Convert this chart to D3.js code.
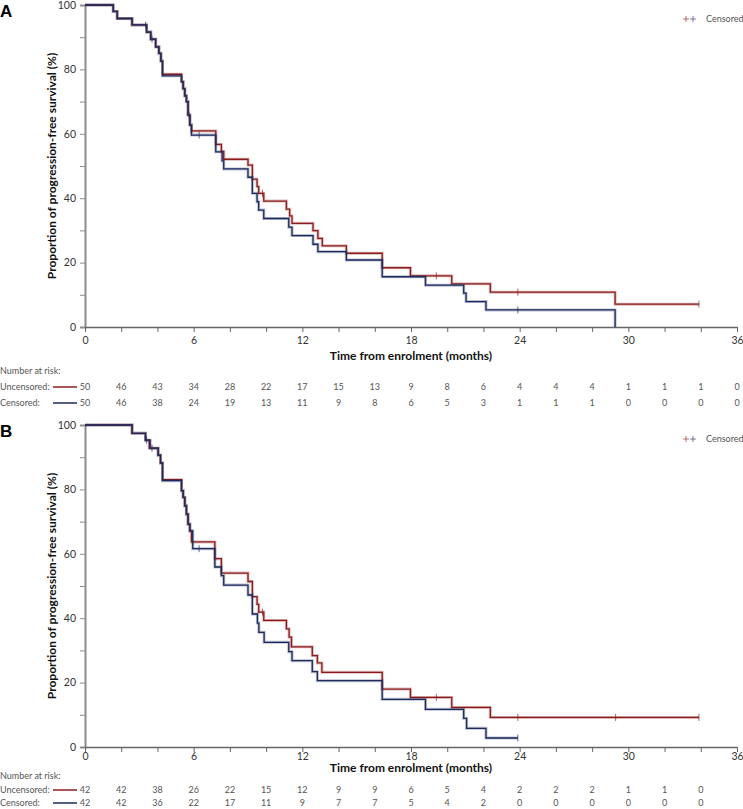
<!DOCTYPE html>
<html>
<head>
<meta charset="utf-8">
<script src="https://cdn.jsdelivr.net/npm/d3@7"></script>
<style>
  body { margin: 0; background: #fff; }
  svg text { font-family: Lato, "Open Sans", sans-serif; }
</style>
</head>
<body>
<div id="chart"></div>
<script>
// Kaplan-Meier steps: [month, survival % after the drop]
var stepsA_unc = [[0,100],[1.56,98],[1.78,95.8],[2.6,93.8],[3.4,91.6],[3.63,89.4],[3.9,87],[4.08,85],[4.19,82.6],[4.28,78.5],
  [5.33,76.2],[5.42,74],[5.51,71.8],[5.6,70],[5.69,65.8],[5.79,62.7],[5.88,60.9],[7.22,56.7],[7.53,54.5],[7.66,52.1],
  [9.0,50.3],[9.24,45.9],[9.5,43.6],[9.59,41.5],[9.87,39.1],[11.12,36.6],[11.3,34.5],[11.43,32.2],[12.59,29.9],[12.86,27.5],
  [13.1,25.2],[14.43,22.9],[16.41,18.4],[17.97,15.9],[20.25,13.4],[22.38,10.8],[29.27,7.1]];
var endA_unc = 33.9;
var censA_unc = [9.8, 19.4, 23.9, 33.9];

var stepsA_cen = [[0,100],[1.56,98],[1.78,95.8],[2.6,93.8],[3.4,91.6],[3.63,89.4],[3.9,87],[4.08,85],[4.19,82.6],[4.28,78],
  [5.33,76.2],[5.42,74],[5.51,71.8],[5.6,70],[5.69,65.8],[5.79,62.7],[5.88,59.6],[7.22,54.4],[7.57,51.6],[7.66,49.1],
  [9.0,46.5],[9.24,41.5],[9.5,38.9],[9.59,36.3],[9.87,33.7],[11.25,31.0],[11.43,28.4],[12.59,25.7],[12.86,23.4],
  [14.43,20.8],[16.41,15.6],[18.8,13.0],[20.91,10.5],[21.04,7.9],[22.14,5.3],[29.27,0]];
var endA_cen = 29.27;
var censA_cen = [3.35, 3.7, 5.75, 6.3, 23.9];

var stepsB_unc = [[0,100],[2.6,97.4],[3.34,95.3],[3.55,92.8],[4.04,90.6],[4.17,88.2],[4.28,83.0],
  [5.33,79.6],[5.42,77.5],[5.51,74.9],[5.6,72.3],[5.69,69.2],[5.79,67.1],[5.88,63.7],[7.17,58.5],[7.53,54.0],
  [9.0,51.4],[9.24,46.7],[9.5,44.3],[9.59,41.9],[9.87,39.3],[11.12,36.7],[11.27,34.1],[11.4,31.1],[12.55,28.4],
  [12.83,26.1],[13.08,23.2],[16.41,18.0],[17.97,15.4],[20.25,12.3],[22.38,9.2]];
var endB_unc = 33.9;
var censB_unc = [9.8, 19.4, 23.9, 29.3, 33.9];

var stepsB_cen = [[0,100],[2.6,97.4],[3.34,95.3],[3.6,92.8],[4.04,90.6],[4.17,88.2],[4.28,82.7],
  [5.33,79.6],[5.42,77.5],[5.51,74.9],[5.6,72.3],[5.69,69.2],[5.79,67.1],[5.95,61.6],[7.17,55.9],[7.53,53.2],[7.66,50.3],
  [9.0,47.2],[9.24,41.3],[9.52,38.5],[9.6,35.6],[9.89,32.5],[11.25,29.6],[11.43,26.8],[12.55,23.4],[12.83,20.6],
  [16.41,14.8],[18.8,11.7],[20.91,8.9],[21.07,5.8],[22.14,2.8]];
var endB_cen = 23.9;
var censB_cen = [3.4, 3.7, 6.3, 23.9];

// Number at risk, every 2 months
var riskMonths = d3.range(0, 37, 2);
var riskA_unc = [50,46,43,34,28,22,17,15,13,9,8,6,4,4,4,1,1,1,0];
var riskA_cen = [50,46,38,24,19,13,11,9,8,6,5,3,1,1,1,0,0,0,0];
var riskB_unc = [42,42,38,26,22,15,12,9,9,6,5,4,2,2,2,1,1,0];
var riskB_cen = [42,42,36,22,17,11,9,7,7,5,4,2,0,0,0,0,0,0];

var xTicks = d3.range(0, 37, 2);
var yTicks = d3.range(0, 101, 10);

var RED = "#8c1c1c", BLUE = "#1c2a5c";

var W = 743, H = 809;
var svg = d3.select("#chart").append("svg").attr("width", W).attr("height", H);

var x = d3.scaleLinear().domain([0, 36]).range([85, 737]);

function valueAt(steps, t) {
    var v = steps[0][1];
    steps.forEach(function(s){ if (s[0] <= t) v = s[1]; });
    return v;
}

function panel(opt) {
    var y = d3.scaleLinear().domain([0, 100]).range([opt.bottom, opt.top]);
    var g = svg.append("g");

    // panel letter
    g.append("text").attr("x", 0).attr("y", opt.top + 12)
      .attr("font-size", 17).attr("font-weight", "bold")
      .style("font-family", "Liberation Sans, Arial, sans-serif")
      .text(opt.letter);

    // y axis
    var ya = g.append("g").attr("transform", "translate(" + x(0) + ",0)")
      .call(d3.axisLeft(y).tickValues(yTicks).tickSize(5)
        .tickFormat(function(d){ return d % 20 === 0 ? d : ""; }));
    ya.select(".domain").attr("stroke", "#8c8c8c").attr("stroke-width", 2);
    ya.selectAll(".tick line").attr("stroke", "#8c8c8c").attr("stroke-width", 1);
    ya.selectAll(".tick text").attr("font-size", 10.5).attr("fill", "#333").attr("x", -9)
      .style("font-family", "Lato, sans-serif");

    // x axis
    var xa = g.append("g").attr("transform", "translate(0," + opt.bottom + ")")
      .call(d3.axisBottom(x).tickValues(xTicks).tickSize(5).tickSizeOuter(0)
        .tickFormat(function(d){ return d % 6 === 0 ? d : ""; }));
    xa.select(".domain").attr("stroke", "#666").attr("stroke-width", 1.5);
    xa.selectAll(".tick line").attr("stroke", "#666");
    xa.selectAll(".tick text").attr("font-size", 10.5).attr("fill", "#333")
      .attr("y", opt.tickLabelY - opt.bottom).attr("dy", "0.35em")
      .style("font-family", "Lato, sans-serif");

    // axis titles
    g.append("text").attr("x", (x(0) + x(36)) / 2).attr("y", opt.xTitleY)
      .attr("text-anchor", "middle").attr("dy", "0.35em")
      .attr("font-size", 12).attr("font-weight", "bold").attr("fill", "#111")
      .text("Time from enrolment (months)");
    g.append("text")
      .attr("transform", "translate(56," + (opt.top + opt.bottom) / 2 + ") rotate(-90)")
      .attr("text-anchor", "middle")
      .attr("font-size", 12).attr("font-weight", "bold").attr("fill", "#111")
      .text("Proportion of progression-free survival (%)");

    // curves
    var line = d3.line().curve(d3.curveStepAfter)
      .x(function(d){ return x(d[0]); }).y(function(d){ return y(d[1]); });

    opt.series.forEach(function(s) {
        var pts = s.steps.concat([[s.end, s.steps[s.steps.length - 1][1]]]);
        g.append("path").datum(pts).attr("d", line)
          .attr("fill", "none").attr("stroke", s.color).attr("stroke-opacity", 0.3).attr("stroke-width", 3);
        g.append("path").datum(pts).attr("d", line)
          .attr("fill", "none").attr("stroke", s.color).attr("stroke-width", 1.3);
        g.selectAll(null).data(s.cens).enter().append("line")
          .attr("x1", function(t){ return x(t); }).attr("x2", function(t){ return x(t); })
          .attr("y1", function(t){ return y(valueAt(s.steps, t)) - 3.5; })
          .attr("y2", function(t){ return y(valueAt(s.steps, t)) + 3.5; })
          .attr("stroke", s.color).attr("stroke-opacity", 0.7).attr("stroke-width", 1);
    });

    // legend
    var ly = opt.top + 14;
    [[686, RED], [693, BLUE]].forEach(function(p) {
        g.append("line").attr("x1", p[0] - 3).attr("x2", p[0] + 3).attr("y1", ly).attr("y2", ly)
          .attr("stroke", p[1]).attr("stroke-opacity", 0.6);
        g.append("line").attr("x1", p[0]).attr("x2", p[0]).attr("y1", ly - 3).attr("y2", ly + 3)
          .attr("stroke", p[1]).attr("stroke-opacity", 0.6);
    });
    g.append("text").attr("x", 706).attr("y", ly).attr("dy", "0.35em")
      .attr("font-size", 9).attr("fill", "#555").text("Censored");

    // number at risk table
    var rows = [
        { label: "Uncensored:", color: RED,  vals: opt.riskUnc, y: opt.rowY[1] },
        { label: "Censored:",   color: BLUE, vals: opt.riskCen, y: opt.rowY[2] }
    ];
    g.append("text").attr("x", 0).attr("y", opt.rowY[0]).attr("dy", "0.35em")
      .attr("font-size", 9).attr("fill", "#555").text("Number at risk:");
    rows.forEach(function(r) {
        g.append("text").attr("x", 0).attr("y", r.y).attr("dy", "0.35em")
          .attr("font-size", 9).attr("fill", "#555").text(r.label);
        g.append("line").attr("x1", 53).attr("x2", 77).attr("y1", r.y).attr("y2", r.y)
          .attr("stroke", r.color).attr("stroke-width", 1.5);
        g.selectAll(null).data(r.vals).enter().append("text")
          .attr("x", function(d, i){ return x(riskMonths[i]); })
          .attr("y", r.y).attr("dy", "0.35em").attr("text-anchor", "middle")
          .attr("font-size", 9).attr("fill", "#555")
          .text(function(d){ return d; });
    });
}

panel({
    letter: "A", top: 5, bottom: 327, tickLabelY: 340, xTitleY: 356, rowY: [371, 387, 403],
    riskUnc: riskA_unc, riskCen: riskA_cen,
    series: [
        { steps: stepsA_unc, end: endA_unc, cens: censA_unc, color: RED },
        { steps: stepsA_cen, end: endA_cen, cens: censA_cen, color: BLUE }
    ]
});

panel({
    letter: "B", top: 425, bottom: 747, tickLabelY: 756, xTitleY: 768, rowY: [776, 790, 803],
    riskUnc: riskB_unc, riskCen: riskB_cen,
    series: [
        { steps: stepsB_unc, end: endB_unc, cens: censB_unc, color: RED },
        { steps: stepsB_cen, end: endB_cen, cens: censB_cen, color: BLUE }
    ]
});
</script>
</body>
</html>
